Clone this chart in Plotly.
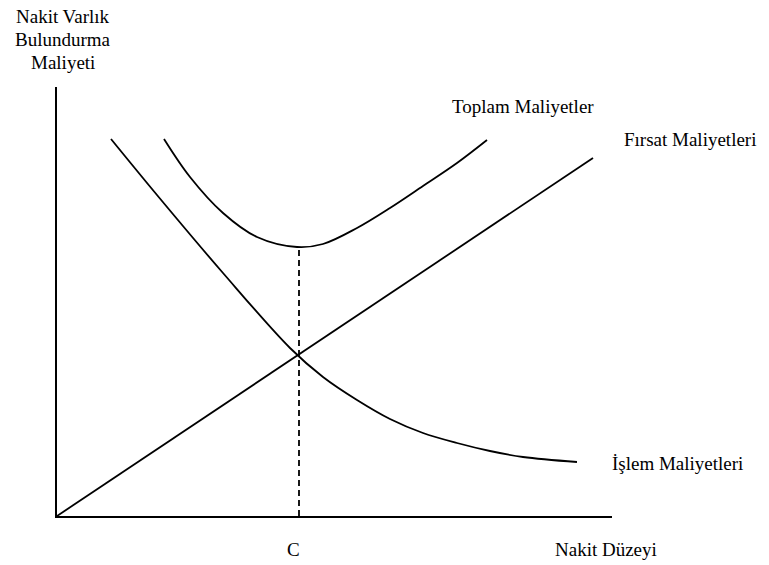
import plotly.graph_objects as go

# Data (arbitrary units)
firsat_x = [0, 536]
firsat_y = [0, 358]

islem_x = [54, 100, 166, 233, 266, 300, 333, 366, 400, 433, 466, 520]
islem_y = [377, 321, 243, 168, 139, 116, 97, 83, 73, 65, 59, 54]

toplam_x = [107, 133, 166, 200, 240, 266, 300, 333, 366, 400, 430]
toplam_y = [377, 339, 303, 279, 269, 272, 288, 308, 330, 353, 376]

c_x = [242, 242]
c_y = [0, 269]

X_MAX = 555
Y_MAX = 429

FONT = "Liberation Serif, Times New Roman, serif"

fig = go.Figure()
fig.add_trace(go.Scatter(x=firsat_x, y=firsat_y, mode="lines",
                         line=dict(color="black", width=1.8), hoverinfo="skip"))
fig.add_trace(go.Scatter(x=islem_x, y=islem_y, mode="lines",
                         line=dict(color="black", width=1.8, shape="spline", smoothing=1.0), hoverinfo="skip"))
fig.add_trace(go.Scatter(x=toplam_x, y=toplam_y, mode="lines",
                         line=dict(color="black", width=1.8, shape="spline", smoothing=1.0), hoverinfo="skip"))
fig.add_trace(go.Scatter(x=c_x, y=c_y, mode="lines",
                         line=dict(color="black", width=1.8, dash="6px,4px"), hoverinfo="skip"))

fnt = dict(family=FONT, size=19, color="black")
labels = [
    (6, 499, "Nakit Varlık"),
    (6, 477, "Bulundurma"),
    (6, 454, "Maliyeti"),
    (466, 410, "Toplam Maliyetler"),
    (633, 377, "Fırsat Maliyetleri"),
    (621, 53, "İşlem Maliyetleri"),
    (549, -33, "Nakit Düzeyi"),
    (236, -33, "C"),
]
annotations = [
    dict(x=lx / X_MAX, y=ly / Y_MAX, xref="paper", yref="paper", text=t,
         xanchor="center", yanchor="middle", showarrow=False, font=fnt)
    for lx, ly, t in labels
]

fig.update_layout(
    width=769, height=565,
    margin=dict(l=57, r=157, t=87, b=49),
    paper_bgcolor="white", plot_bgcolor="white",
    showlegend=False,
    annotations=annotations,
    xaxis=dict(range=[0, X_MAX], showgrid=False, zeroline=False, showticklabels=False, ticks="",
               showline=True, linecolor="black", linewidth=1.8, fixedrange=True),
    yaxis=dict(range=[0, Y_MAX], showgrid=False, zeroline=False, showticklabels=False, ticks="",
               showline=True, linecolor="black", linewidth=1.8, fixedrange=True),
)

fig.write_html("out.html", config={"displayModeBar": False},
               post_script="document.body.style.margin='0';document.body.style.overflow='hidden';")
